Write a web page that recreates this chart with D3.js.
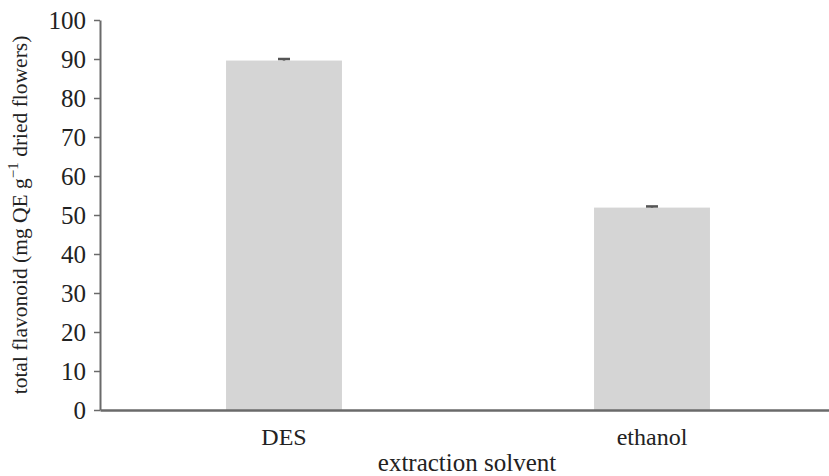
<!DOCTYPE html>
<html>
<head>
<meta charset="utf-8">
<script src="https://cdn.jsdelivr.net/npm/d3@7"></script>
<style>
  html, body { margin: 0; padding: 0; background: #fff; }
  svg { display: block; }
  text { font-family: "Liberation Serif", "Times New Roman", serif; fill: #222; }
</style>
</head>
<body>
<svg id="chart" width="829" height="476"></svg>
<script>
// Total flavonoid content by extraction solvent
const categories = ["DES", "ethanol"];
const values = [89.6, 51.9];
const errors = [0.4, 0.3];
const yTicks = [0, 10, 20, 30, 40, 50, 60, 70, 80, 90, 100];

const svg = d3.select("#chart");
const plotLeft = 100, plotRight = 836, plotTop = 20, plotBottom = 410;

const x = d3.scaleBand()
  .domain(categories)
  .range([plotLeft, plotRight])
  .paddingInner(0.685)
  .paddingOuter(0.3425);

const y = d3.scaleLinear().domain([0, 100]).range([plotBottom, plotTop]);

// Bars
svg.append("g").selectAll("rect")
  .data(categories)
  .join("rect")
  .attr("x", d => x(d))
  .attr("width", x.bandwidth())
  .attr("y", (d, i) => y(values[i]))
  .attr("height", (d, i) => y(0) - y(values[i]))
  .attr("fill", "#d5d5d5");

// Error bars
const eb = svg.append("g").attr("stroke", "#555").attr("stroke-width", 2.5);
categories.forEach((c, i) => {
  const cx = x(c) + x.bandwidth() / 2;
  eb.append("line")
    .attr("x1", cx).attr("x2", cx)
    .attr("y1", y(values[i] + errors[i])).attr("y2", y(values[i]));
  eb.append("line")
    .attr("x1", cx - 6).attr("x2", cx + 6)
    .attr("y1", y(values[i] + errors[i])).attr("y2", y(values[i] + errors[i]));
});

// Y axis
const yAxis = svg.append("g")
  .attr("transform", `translate(${plotLeft},0)`)
  .call(d3.axisLeft(y).tickValues(yTicks).tickSize(6).tickPadding(8).tickSizeOuter(0));
yAxis.select(".domain").attr("stroke", "#6a6a6a").attr("stroke-width", 2);
yAxis.selectAll(".tick line").attr("stroke", "#6a6a6a").attr("stroke-width", 1.5);
yAxis.selectAll(".tick text")
  .attr("font-size", 25)
  .attr("fill", "#222");

// X axis
const xAxis = svg.append("g")
  .attr("transform", `translate(0,${plotBottom})`)
  .call(d3.axisBottom(x).tickSize(0).tickPadding(18));
xAxis.select(".domain").attr("stroke", "#6a6a6a").attr("stroke-width", 2.5);
xAxis.selectAll(".tick text")
  .attr("font-size", 24)
  .attr("fill", "#222");

// Axis titles
svg.append("text")
  .attr("x", (plotLeft + plotRight) / 2 - 1)
  .attr("y", 471)
  .attr("text-anchor", "middle")
  .attr("font-size", 25)
  .text("extraction solvent");

const yTitle = svg.append("text")
  .attr("transform", `translate(27,${(plotTop + plotBottom) / 2}) rotate(-90)`)
  .attr("text-anchor", "middle")
  .attr("font-size", 21.5);
yTitle.append("tspan").text("total flavonoid (mg QE g");
yTitle.append("tspan").attr("dy", -9).attr("font-size", 15).text("\u22121");
yTitle.append("tspan").attr("dy", 9).text(" dried flowers)");
</script>
</body>
</html>
